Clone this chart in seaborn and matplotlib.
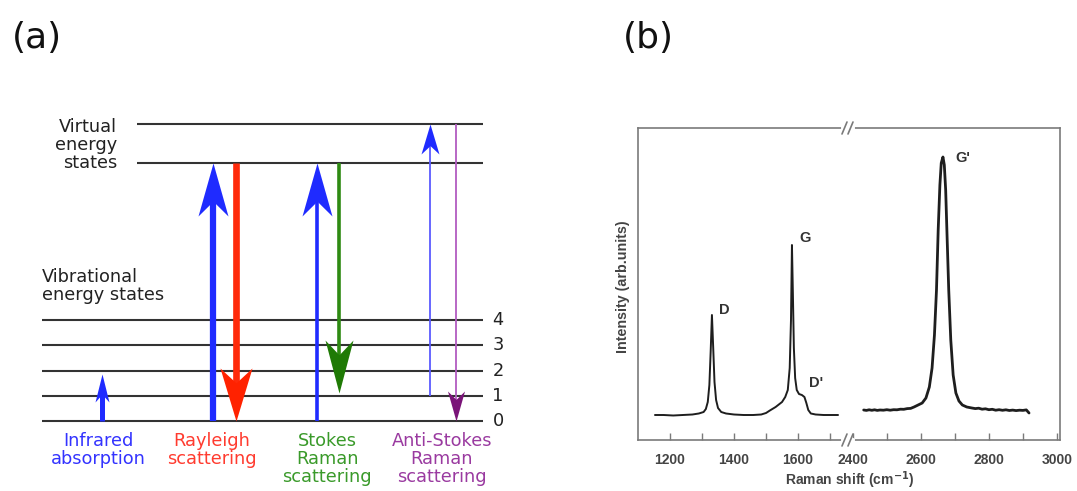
import matplotlib
matplotlib.use("Agg")
import matplotlib.pyplot as plt
from matplotlib.path import Path
import pandas as pd
import seaborn as sns

# ---------------- data ----------------
# (a) energy-level diagram
vib_levels = [0, 1, 2, 3, 4]
virtual_levels = [10.2, 11.75]

process_names = ["Infrared\nabsorption", "Rayleigh\nscattering",
                 "Stokes\nRaman\nscattering", "Anti-Stokes\nRaman\nscattering"]
# transitions: start level -> end level
arrow_start = [0, 0, 10.2, 0, 10.2, 1, 11.75]
arrow_end = [1.85, 10.2, 0, 10.2, 1.1, 11.75, 0]

# (b) Raman spectrum, low-shift segment (cm^-1, arb. units)
shift_low = [1153, 1180, 1210, 1240, 1270, 1290, 1305, 1312, 1318, 1323, 1327,
             1331, 1335, 1339, 1344, 1350, 1360, 1375, 1400, 1430, 1460, 1485,
             1500, 1512, 1530, 1550, 1560, 1568, 1574, 1578, 1581, 1584, 1587,
             1591, 1596, 1603, 1612, 1620, 1626, 1632, 1640, 1655, 1680, 1700,
             1725]
int_low = [25, 25, 24.5, 25, 25.5, 26.5, 28, 31, 38, 55, 88,
           125, 92, 58, 40, 32, 28, 26.5, 25.5, 25, 25, 25.5,
           27, 29.5, 33, 38, 43, 50, 72, 120, 195, 145, 92,
           62, 50, 46, 45, 43, 37, 30, 26.5, 25.5, 25, 25,
           25]
# high-shift segment
shift_high = [2432, 2440, 2448, 2456, 2464, 2472, 2480, 2490, 2500, 2510, 2520,
              2530, 2540, 2550, 2560, 2570, 2580, 2592, 2604, 2615, 2625, 2633,
              2640, 2646, 2651, 2656, 2660, 2665, 2669, 2673, 2677, 2682, 2688,
              2695, 2703, 2712, 2722, 2735, 2750, 2760, 2770, 2780, 2790, 2800,
              2810, 2820, 2830, 2840, 2850, 2860, 2870, 2880, 2890, 2900, 2910,
              2918]
int_high = [30, 29.6, 30.2, 29.7, 30.2, 29.6, 30, 29.8, 30.3, 29.8, 30.3,
            30.2, 30.8, 30.7, 31.4, 31.6, 33, 35, 37, 42, 53, 72,
            105, 150, 210, 255, 277, 283, 275, 250, 205, 150, 100,
            65, 47, 39, 35, 33, 32, 31.4, 31.8, 30.8, 31.2, 30.3,
            30.7, 29.8, 30.3, 29.7, 30.2, 29.5, 29.9, 29.4, 29.8, 29.6, 30.1,
            27]

peak_names = ["D", "G", "D'", "G'"]
peak_label_x = [1353, 1603, 1634, 2701]
peak_label_y = [130, 202, 57, 282]

ticks_low = [1200, 1400, 1600]
minor_low = [1300, 1500, 1700]
ticks_high = [2400, 2600, 2800, 3000]
minor_high = [2500, 2700, 2900]

# ---------------- figure ----------------
sns.set_theme(style="white")
plt.rcParams["font.family"] = ["DejaVu Sans"]

W, H = 1077, 491
fig = plt.figure(figsize=(W / 100, H / 100), dpi=100)
fig.patch.set_facecolor("white")


def rect(x0, y0, x1, y1):
    """Axes rectangle from pixel box (top-left origin)."""
    return [x0 / W, 1 - y1 / H, (x1 - x0) / W, (y1 - y0) / H]


# ---------- panel (a) ----------
axa = fig.add_axes(rect(0, 0, 540, H))
axa.set_xlim(0, 540)
lvl_px = 25.25
axa.set_ylim((421 - H) / lvl_px, 421 / lvl_px)
axa.axis("off")

level_color = "#333333"
for lv in vib_levels:
    axa.plot([42, 483], [lv, lv], color=level_color, lw=1.5, solid_capstyle="butt")
    axa.text(498, lv, str(lv), ha="center", va="center", fontsize=12.8, color="#222222")
for lv in virtual_levels:
    axa.plot([137, 483], [lv, lv], color=level_color, lw=1.5, solid_capstyle="butt")

axa.text(117, 10.95, "Virtual\nenergy\nstates", ha="right", va="center",
         fontsize=12.8, color="#222222", linespacing=1.0)
axa.text(42, 5.35, "Vibrational\nenergy states", ha="left", va="center",
         fontsize=12.8, color="#222222", linespacing=1.0)
axa.text(37, 15.15, "(a)", ha="center", va="center", fontsize=26, color="#111111")


def head_path(length, width, up=True, notch=0.72):
    s = 1 if up else -1
    verts = [(0, 0), (-width / 2, -s * length), (0, -s * notch * length),
             (width / 2, -s * length), (0, 0)]
    codes = [Path.MOVETO, Path.LINETO, Path.LINETO, Path.LINETO, Path.CLOSEPOLY]
    return Path(verts, codes)


blue = "#1f2bff"
arrow_x = [102, 213, 236, 317, 339, 430, 456]
shaft_color = [blue, blue, "#ff2a0a", blue, "#2e8a12", "#5a5aff", "#b25cc0"]
head_color = [blue, blue, "#ff2200", blue, "#1f7a05", blue, "#7a1478"]
shaft_lw = [3.6, 4.5, 4.8, 2.6, 2.6, 1.3, 1.3]
head_len = [28, 53, 53, 53, 53, 30, 30]   # px
head_wid = [14, 30, 32, 30, 28, 18, 17]   # px

for i in range(len(arrow_x)):
    y0, y1 = arrow_start[i], arrow_end[i]
    up = y1 > y0
    s = 1 if up else -1
    stop = y1 - s * 0.6 * head_len[i] / lvl_px
    axa.plot([arrow_x[i], arrow_x[i]], [y0, stop], color=shaft_color[i],
             lw=shaft_lw[i], solid_capstyle="butt")
    axa.plot([arrow_x[i]], [y1], linestyle="none",
             marker=head_path(head_len[i], head_wid[i], up=up),
             markersize=2 * head_len[i] * 0.72,
             color=head_color[i], markeredgewidth=0)

label_x = [98, 212, 327, 442]
label_col = ["#3333ff", "#ff3b2f", "#3a9a2a", "#9a3aa0"]
for x, name, c in zip(label_x, process_names, label_col):
    axa.text(x, -0.42, name, ha="center", va="top", fontsize=12.8, color=c,
             linespacing=1.0)

# ---------- panel (b) ----------
fig.text(648 / W, 1 - 38 / H, "(b)", ha="center", va="center", fontsize=26,
         color="#111111")

axL = fig.add_axes(rect(638, 128, 847, 440))
axR = fig.add_axes(rect(847, 128, 1060, 440))

frame = "#7a7a7a"
tick_font = dict(fontsize=10, fontweight="bold", color="#444444",
                 family="Liberation Sans")

low = pd.DataFrame({"shift": shift_low, "intensity": int_low})
high = pd.DataFrame({"shift": shift_high, "intensity": int_high})
sns.lineplot(data=low, x="shift", y="intensity", ax=axL, color="#1e1e1e",
             lw=1.4, sort=False, estimator=None)
sns.lineplot(data=high, x="shift", y="intensity", ax=axR, color="#1e1e1e",
             lw=2.0, sort=False, estimator=None)

axL.set_xlim(1100, 1753)
axR.set_xlim(2383, 3009)
for ax, maj, mnr in [(axL, ticks_low, minor_low), (axR, ticks_high, minor_high)]:
    ax.set_ylim(0, 312)
    ax.set_facecolor("white")
    ax.set_xticks(maj)
    ax.set_xticks(mnr, minor=True)
    ax.set_xticklabels([str(t) for t in maj], **tick_font)
    ax.set_yticks([])
    ax.set_xlabel("")
    ax.set_ylabel("")
    ax.tick_params(axis="x", which="both", direction="in", bottom=True, top=False,
                   length=5, width=1.0, color=frame, pad=9)
    for sp in ax.spines.values():
        sp.set_color(frame)
        sp.set_linewidth(1.2)
axL.spines["right"].set_visible(False)
axR.spines["left"].set_visible(False)

for name, x, y in zip(peak_names[:3], peak_label_x[:3], peak_label_y[:3]):
    axL.text(x, y, name, ha="left", va="center", fontsize=10.5, fontweight="bold",
             color="#333333", family="Liberation Sans")
axR.text(peak_label_x[3], peak_label_y[3], peak_names[3], ha="left", va="center",
         fontsize=10.5, fontweight="bold", color="#333333", family="Liberation Sans")

fig.text(850 / W, 1 - 480 / H, "Raman shift (cm$^{\\mathbf{-1}}$)", ha="center",
         va="center", fontsize=10, fontweight="bold", color="#444444",
         family="Liberation Sans")
fig.text(623 / W, 1 - 287 / H, "Intensity (arb.units)", ha="center", va="center",
         rotation=90, fontsize=10.3, fontweight="bold", color="#444444",
         family="Liberation Sans")

# axis-break marks on the frame
figpx = fig.transFigure
for yb in (128, 440):
    fig.add_artist(plt.Line2D([843 / W, 853 / W], [1 - yb / H] * 2, color="white",
                              lw=3, transform=figpx))
    for xb in (842, 848):
        fig.add_artist(plt.Line2D([xb / W, (xb + 5) / W],
                                  [1 - (yb + 6) / H, 1 - (yb - 6) / H],
                                  color=frame, lw=1.2, transform=figpx))

fig.savefig("out.png", dpi=100, facecolor="white")
